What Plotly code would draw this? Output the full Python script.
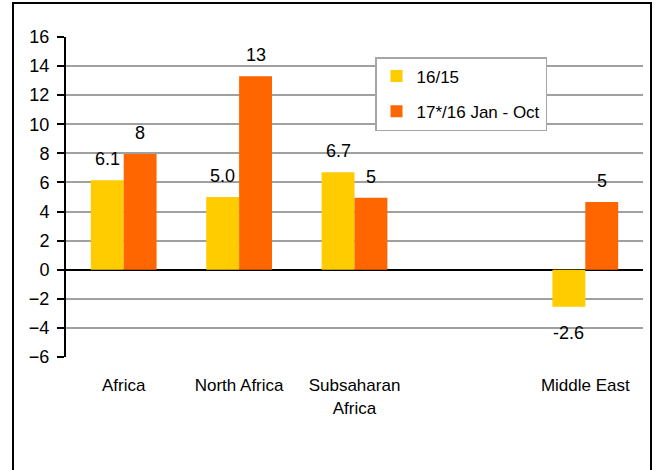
import plotly.graph_objects as go

categories = ["Africa", "North Africa", "Subsaharan<br>Africa", "Middle East"]
cat_pos = [0, 1, 2, 4]
series1_name = "16/15"
series2_name = "17*/16 Jan - Oct"
series1 = [6.15, 5.0, 6.7, -2.55]
series2 = [7.95, 13.3, 4.95, 4.65]
labels1 = ["6.1", "5.0", "6.7", "-2.6"]
labels2 = ["8", "13", "5", "5"]
y_ticks = list(range(-6, 17, 2))

YELLOW = "#FFCC00"
ORANGE = "#FF6600"
FONT = "Liberation Sans, Arial, sans-serif"
BARGAP = 0.43

W, H = 657, 470
L, R, T, B = 66, 14, 37, 113

fig = go.Figure()
fig.add_trace(go.Bar(x=cat_pos, y=series1, name=series1_name, marker_color=YELLOW,
                     marker_line_width=0, legendgroup="a"))
fig.add_trace(go.Bar(x=cat_pos, y=series2, name=series2_name, marker_color=ORANGE,
                     marker_line_width=0, legendgroup="b"))

half = (1 - BARGAP) / 4
annotations = []
for xp, v, t in zip(cat_pos, series1, labels1):
    annotations.append(dict(x=xp - half, y=v, text=t, showarrow=False, xref="x", yref="y",
                            yanchor="middle", yshift=21 if v >= 0 else -26,
                            font=dict(family=FONT, size=18, color="#000")))
for xp, v, t in zip(cat_pos, series2, labels2):
    annotations.append(dict(x=xp + half, y=v, text=t, showarrow=False, xref="x", yref="y",
                            yanchor="middle", yshift=21 if v >= 0 else -26,
                            font=dict(family=FONT, size=18, color="#000")))

pw = W - L - R
ph = H - T - B
def px_x(p):
    return (p - L) / pw
def px_y(p):
    return (H - B - p) / ph

fig.update_layout(
    width=W, height=H,
    margin=dict(l=L, r=R, t=T, b=B),
    paper_bgcolor="white", plot_bgcolor="white",
    barmode="group", bargap=BARGAP, bargroupgap=0,
    font=dict(family=FONT, size=17, color="#000"),
    showlegend=True,
    legend=dict(x=px_x(375), y=px_y(57), xanchor="left", yanchor="top",
                bgcolor="white", bordercolor="#a6a6a6", borderwidth=1.5,
                font=dict(family=FONT, size=17, color="#000"),
                tracegroupgap=10, itemwidth=30),
    annotations=annotations,
    shapes=[dict(type="rect", xref="paper", yref="paper",
                 x0=px_x(13), x1=px_x(651), y0=px_y(480), y1=px_y(3),
                 line=dict(color="#000", width=2), layer="above")],
)
fig.update_xaxes(range=[-0.5, 4.5], tickvals=cat_pos, ticktext=categories,
                 showgrid=False, zeroline=False, showline=False,
                 ticks="outside", ticklen=13, tickcolor="rgba(0,0,0,0)",
                 tickfont=dict(family=FONT, size=17))
fig.update_yaxes(range=[-6, 16], tickvals=y_ticks, showgrid=True, gridcolor="#a0a0a0",
                 gridwidth=2, zeroline=True, zerolinecolor="#000", zerolinewidth=2,
                 showline=True, linecolor="#000", linewidth=2,
                 ticks="outside", ticklen=7, tickcolor="#000", tickwidth=2,
                 ticklabelstandoff=4,
                 tickfont=dict(family=FONT, size=18))

fig.write_html("out.html")
